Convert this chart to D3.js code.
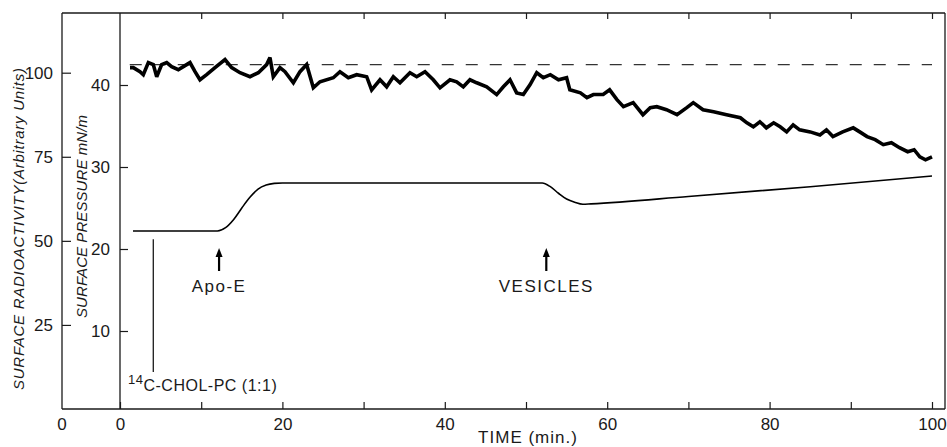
<!DOCTYPE html>
<html>
<head>
<meta charset="utf-8">
<script src="https://cdn.jsdelivr.net/npm/d3@7"></script>
<style>
  body { margin: 0; background: #fff; }
  svg { display: block; }
  text { font-family: "Liberation Sans", Arial, sans-serif; fill: #1a1a1a; }
  .axis path { display: none; }
  .axis line { stroke: #1a1a1a; stroke-width: 1.2; }
  .axis text { font-size: 17px; }
</style>
</head>
<body>
<div id="chart"></div>
<script>
// time ticks (min.)
const timeTicks = [0, 10, 20, 30, 40, 50, 60, 70, 80, 90, 100];
const radioTicks = [25, 50, 75, 100];
const pressureTicks = [10, 20, 30, 40];

// surface radioactivity trace (arbitrary units)
const radioTime = [1.23, 1.64, 2.46, 2.87, 3.49, 4.10, 4.52, 5.13, 5.75, 6.36, 7.18, 7.80, 8.62, 9.24, 9.85, 10.67,
  11.70, 12.93, 13.75, 14.78, 16.01, 17.04, 18.06, 18.47, 18.88, 19.70, 20.32, 21.35, 22.17, 22.99, 23.81, 24.63,
  26.27, 27.09, 28.12, 29.15, 30.38, 30.99, 32.02, 32.84, 33.66, 34.48, 35.71, 36.54, 37.56, 38.58, 39.41, 40.64,
  41.46, 42.28, 43.10, 43.93, 45.16, 46.39, 47.21, 48.03, 48.85, 49.67, 50.49, 51.32, 52.13, 53.0, 54.0, 55.0,
  55.4, 56.7, 57.5, 58.3, 59.5, 60.3, 61.2, 62.0, 63.2, 64.4, 65.3, 66.1, 67.3, 68.6, 69.8, 70.6,
  71.8, 73.1, 74.7, 76.4, 77.2, 78.0, 78.8, 79.6, 80.5, 81.3, 82.1, 82.9, 83.7, 85.0, 86.2, 87.0,
  87.8, 89.0, 90.3, 91.1, 92.0, 93.0, 94.0, 95.0, 96.0, 97.0, 97.8, 98.5, 99.2, 100.0];
const radioValue = [101.5, 101.5, 100.3, 99.4, 103.0, 102.4, 98.8, 102.4, 103.0, 101.8, 100.9, 101.8, 103.0, 100.3, 97.9, 99.4,
  101.5, 103.9, 101.5, 100.0, 98.8, 100.0, 102.4, 104.5, 98.8, 101.5, 100.3, 97.0, 100.3, 102.4, 95.5, 97.3,
  98.5, 100.3, 98.5, 99.4, 98.8, 94.9, 97.9, 95.8, 98.8, 97.0, 100.0, 98.8, 100.3, 97.9, 95.5, 97.9,
  97.3, 95.8, 97.9, 97.0, 95.8, 93.5, 95.8, 97.9, 94.0, 93.5, 96.4, 100.0, 98.5, 99.4, 97.9, 98.5,
  94.9, 94.0, 92.6, 93.5, 93.5, 94.9, 92.0, 89.9, 91.1, 87.5, 89.6, 89.9, 89.0, 87.5, 89.6, 91.1,
  89.0, 88.4, 87.5, 86.6, 85.1, 83.9, 85.4, 83.6, 85.1, 83.9, 82.4, 84.5, 83.0, 82.4, 81.5, 83.0,
  81.0, 82.4, 83.6, 82.4, 81.0, 80.1, 78.6, 79.2, 77.7, 76.5, 77.1, 75.0, 74.1, 75.0];

// surface pressure trace (mN/m)
const pressureTime = [1.6, 12, 13, 14, 15, 16, 17, 18, 19, 20, 52, 53, 54, 55, 56, 57, 58, 70, 85, 100];
const pressureValue = [22.2, 22.2, 22.6, 23.6, 25.0, 26.3, 27.3, 27.8, 28.0, 28.05, 28.05, 27.6, 26.8, 26.1, 25.7, 25.45, 25.5, 26.4, 27.6, 28.9];

// initial radioactivity level (dashed)
const referenceLevel = 102.4;
const referenceSpan = [1.2, 100];

// annotations
const injectTime = 4.1, injectSpan = [21.2, 5.0];
const arrowNotes = [
  { label: "Apo-E", time: 12.2 },
  { label: "VESICLES", time: 52.5 }
];

const width = 947, height = 447;
const svg = d3.select("#chart").append("svg")
  .attr("width", width).attr("height", height);

const x = d3.scaleLinear().domain([0, 100]).range([120, 932]);
const yRadio = d3.scaleLinear().domain([0, 100]).range([409, 72.7]);
const yPress = d3.scaleLinear().domain([10, 40]).range([331, 85]);

const frame = { left: 62, right: 945, top: 13, bottom: 409 };

// frame lines
const border = svg.append("g").attr("stroke", "#1a1a1a").attr("stroke-width", 1.3);
border.append("line").attr("x1", frame.left).attr("x2", frame.right).attr("y1", frame.top).attr("y2", frame.top);
border.append("line").attr("x1", frame.left).attr("x2", frame.right).attr("y1", frame.bottom).attr("y2", frame.bottom);
border.append("line").attr("x1", frame.left).attr("x2", frame.left).attr("y1", frame.top).attr("y2", frame.bottom);
border.append("line").attr("x1", x(0)).attr("x2", x(0)).attr("y1", frame.top).attr("y2", frame.bottom);
border.append("line").attr("x1", frame.right).attr("x2", frame.right).attr("y1", frame.top).attr("y2", frame.bottom);

// bottom time axis, ticks pointing in
svg.append("g").attr("class", "axis")
  .attr("transform", `translate(0,${frame.bottom})`)
  .call(d3.axisBottom(x).tickValues(timeTicks).tickSizeInner(-7).tickSizeOuter(0).tickPadding(9)
    .tickFormat(d => d % 20 === 0 ? d : ""));

// top edge ticks
svg.append("g").attr("class", "axis")
  .attr("transform", `translate(0,${frame.top})`)
  .call(d3.axisBottom(x).tickValues(timeTicks.slice(1)).tickSize(6).tickFormat(""));

// radioactivity axis (outer)
svg.append("g").attr("class", "axis")
  .attr("transform", `translate(${frame.left},0)`)
  .call(d3.axisLeft(yRadio).tickValues(radioTicks).tickSizeInner(-9).tickSizeOuter(0).tickPadding(9));

// pressure axis (inner)
svg.append("g").attr("class", "axis")
  .attr("transform", `translate(${x(0)},0)`)
  .call(d3.axisLeft(yPress).tickValues(pressureTicks).tickSizeInner(-8).tickSizeOuter(0).tickPadding(10));

// zero of the radioactivity axis
svg.append("text").attr("x", frame.left).attr("y", 430)
  .attr("text-anchor", "middle").style("font-size", "17px").text("0");

// axis titles
svg.append("text")
  .attr("transform", `translate(19,${(68 + 390) / 2}) rotate(-90)`)
  .attr("text-anchor", "middle").attr("dy", "0.35em")
  .attr("textLength", 322).attr("lengthAdjust", "spacing")
  .style("font-size", "15px").style("font-style", "italic")
  .text("SURFACE RADIOACTIVITY(Arbitrary Units)");

svg.append("text")
  .attr("transform", `translate(82,${(115 + 318) / 2}) rotate(-90)`)
  .attr("text-anchor", "middle").attr("dy", "0.35em")
  .attr("textLength", 203).attr("lengthAdjust", "spacing")
  .style("font-size", "15px").style("font-style", "italic")
  .text("SURFACE PRESSURE mN/m");

svg.append("text")
  .attr("x", 528).attr("y", 443).attr("text-anchor", "middle")
  .style("font-size", "17px").style("letter-spacing", "1px")
  .text("TIME (min.)");

// dashed reference level
svg.append("line")
  .attr("x1", x(referenceSpan[0])).attr("x2", x(referenceSpan[1]))
  .attr("y1", yRadio(referenceLevel)).attr("y2", yRadio(referenceLevel))
  .attr("stroke", "#333").attr("stroke-width", 1.2).attr("stroke-dasharray", "12,12");

// radioactivity trace
const radioData = radioTime.map((t, i) => [t, radioValue[i]]);
svg.append("path").datum(radioData)
  .attr("fill", "none").attr("stroke", "#000").attr("stroke-width", 3.6)
  .attr("stroke-linejoin", "miter").attr("stroke-miterlimit", 3)
  .attr("d", d3.line().x(d => x(d[0])).y(d => yRadio(d[1])));

// pressure trace
const pressureData = pressureTime.map((t, i) => [t, pressureValue[i]]);
svg.append("path").datum(pressureData)
  .attr("fill", "none").attr("stroke", "#000").attr("stroke-width", 1.6)
  .attr("d", d3.line().curve(d3.curveMonotoneX).x(d => x(d[0])).y(d => yPress(d[1])));

// injection marker
svg.append("line")
  .attr("x1", x(injectTime)).attr("x2", x(injectTime))
  .attr("y1", yPress(injectSpan[0])).attr("y2", yPress(injectSpan[1]))
  .attr("stroke", "#1a1a1a").attr("stroke-width", 1.3);

const inj = svg.append("text").attr("x", 128).attr("y", 391)
  .style("font-size", "16px").style("letter-spacing", "0.5px");
inj.append("tspan").attr("dy", "-7").style("font-size", "13px").text("14");
inj.append("tspan").attr("dy", "7").text("C-CHOL-PC (1:1)");

// arrows
const arrows = svg.append("g").selectAll("g").data(arrowNotes).join("g")
  .attr("transform", d => `translate(${x(d.time)},0)`);
arrows.append("line").attr("y1", 253).attr("y2", 271)
  .attr("stroke", "#000").attr("stroke-width", 2.2);
arrows.append("path").attr("d", "M0,248 L-3.5,257 L3.5,257 Z").attr("fill", "#000");
arrows.append("text").attr("y", 292).attr("text-anchor", "middle")
  .style("font-size", "17px").style("letter-spacing", "1.5px")
  .text(d => d.label);
</script>
</body>
</html>
